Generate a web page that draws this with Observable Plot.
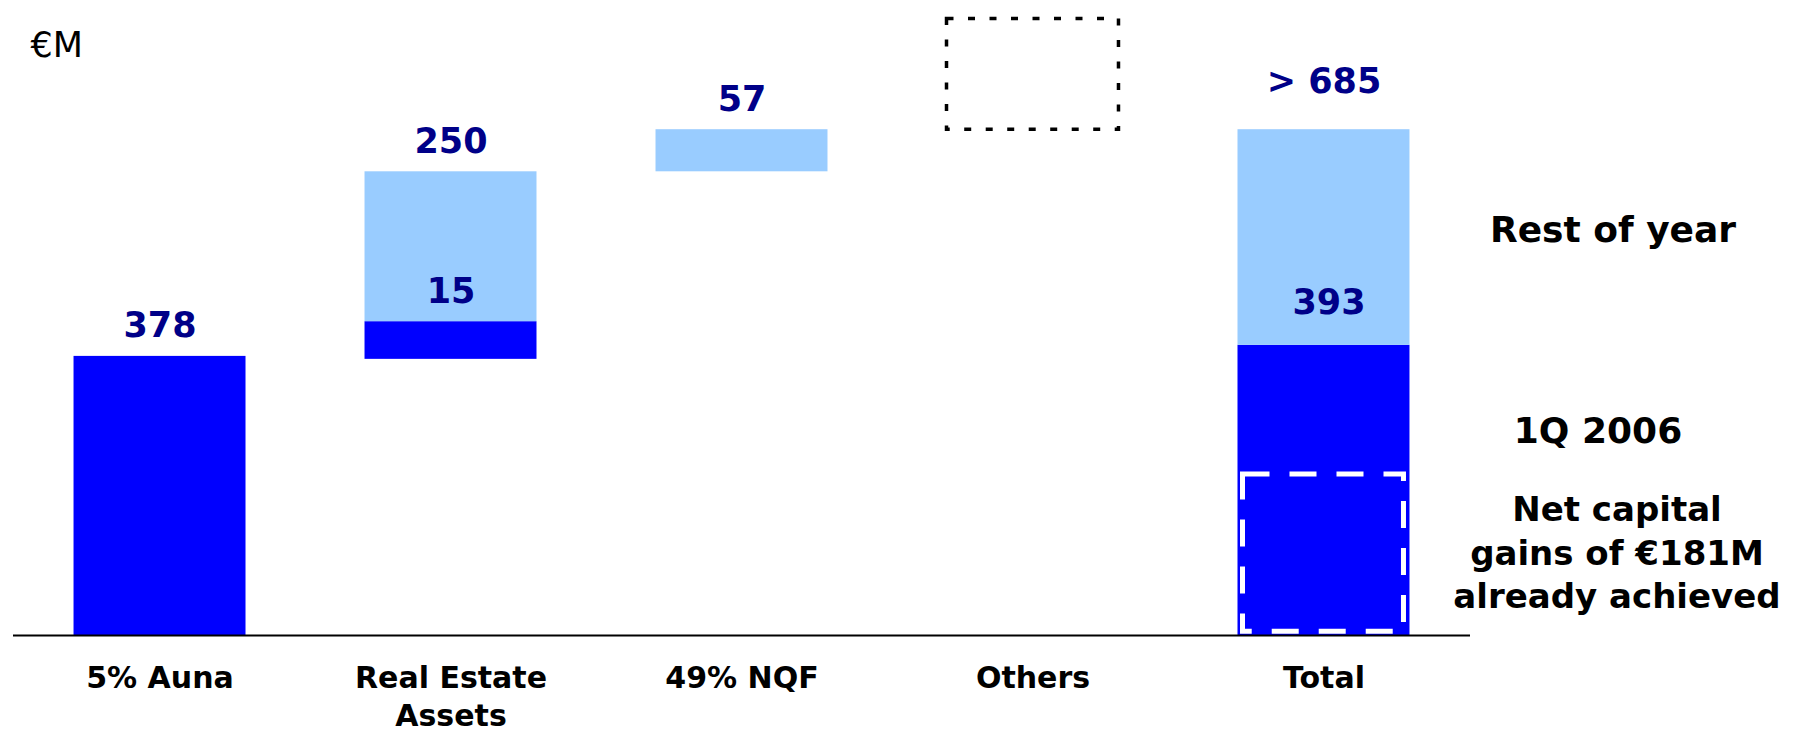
<!DOCTYPE html>
<html>
<head>
<meta charset="utf-8">
<script src="https://cdn.jsdelivr.net/npm/d3@7"></script>
<script src="https://cdn.jsdelivr.net/npm/@observablehq/plot@0.6"></script>
<style>
  html, body { margin: 0; padding: 0; background: #fff; overflow: hidden; }
  #chart svg { display: block; }
</style>
</head>
<body>
<div id="chart"></div>
<script>
// ---- data (€M) ----
const categories = ["5% Auna", "Real Estate\nAssets", "49% NQF", "Others", "Total"];
// first-quarter (dark blue) segment extents as drawn
const q1Start = [0, 374, null, null, 0];
const q1End   = [378, 425, null, null, 393];
// rest-of-year (light blue) segment extents
const restStart = [null, 425, 628, null, 393];
const restEnd   = [null, 628, 685, null, 685];
// "Others" still to come (dashed outline)
const othersStart = [null, null, null, 685, null];
const othersEnd   = [null, null, null, 835, null];
// net capital gains already achieved (white dashed, inside Total)
const achievedStart = [null, null, null, null, 5];
const achievedEnd   = [null, null, null, null, 218];
// value labels
const topLabels   = ["378", "250", "57", "", "> 685"];
const innerLabels = ["", "15", "", "", "393"];
const unitLabel = "€M";
const legendRest = "Rest of year";
const legendQ1 = "1Q 2006";
const noteText = "Net capital\ngains of €181M\nalready achieved";

const rows = categories.map((cat, i) => ({
  cat,
  q1Start: q1Start[i], q1End: q1End[i],
  restStart: restStart[i], restEnd: restEnd[i],
  othersStart: othersStart[i], othersEnd: othersEnd[i],
  achievedStart: achievedStart[i], achievedEnd: achievedEnd[i],
  top: topLabels[i], inner: innerLabels[i],
  topY: Math.max(q1End[i] ?? 0, restEnd[i] ?? 0)
}));
const total = rows[rows.length - 1];

const FONT = "'DejaVu Sans', Verdana, sans-serif";
const NAVY = "#000088";
const DARK = "#0000FF";
const LIGHT = "#99CCFF";

const chart = Plot.plot({
  width: 1795,
  height: 729,
  marginTop: 0,
  marginBottom: 94,
  marginLeft: 13,
  marginRight: 325,
  style: { fontFamily: FONT, background: "#fff", overflow: "visible" },
  x: { domain: categories, paddingInner: 0.409, paddingOuter: 0.208, round: false, axis: null },
  y: { domain: [0, 860], axis: null },
  marks: [
    Plot.barY(rows.filter(d => d.q1End != null), { x: "cat", y1: "q1Start", y2: "q1End", fill: DARK }),
    Plot.barY(rows.filter(d => d.restEnd != null), { x: "cat", y1: "restStart", y2: "restEnd", fill: LIGHT }),
    Plot.barY(rows.filter(d => d.othersEnd != null), {
      x: "cat", y1: "othersStart", y2: "othersEnd",
      fill: "none", stroke: "#000", strokeWidth: 3.5, strokeDasharray: "7,14.5"
    }),
    Plot.barY(rows.filter(d => d.achievedEnd != null), {
      x: "cat", y1: "achievedStart", y2: "achievedEnd", insetLeft: 5, insetRight: 6,
      fill: "none", stroke: "#fff", strokeWidth: 5, strokeDasharray: "27,20"
    }),
    Plot.ruleY([0], { stroke: "#000", strokeWidth: 2 }),
    Plot.axisX({
      domain: categories, tickSize: 0, tickPadding: 26, fontSize: 30, fontWeight: "bold",
      fill: "#000", lineHeight: 1.25, label: null
    }),
    // top value labels
    Plot.text(rows.filter(d => d.top && d.cat !== "Total"), {
      x: "cat", y: "topY", text: "top", lineAnchor: "bottom", dy: -19,
      fontSize: 35, fontWeight: "bold", fill: NAVY
    }),
    Plot.text([total], {
      x: "cat", y: "topY", text: "top", lineAnchor: "bottom", dy: -37,
      fontSize: 35, fontWeight: "bold", fill: NAVY
    }),
    // inner labels
    Plot.text(rows.filter(d => d.inner && d.cat !== "Total"), {
      x: "cat", y: "q1End", text: "inner", lineAnchor: "bottom", dy: -19,
      fontSize: 35, fontWeight: "bold", fill: NAVY
    }),
    Plot.text([total], {
      x: "cat", y: "q1End", text: "inner", lineAnchor: "bottom", dy: -31, dx: 5,
      fontSize: 35, fontWeight: "bold", fill: NAVY
    }),
    // right-hand annotations
    Plot.text([total], {
      x: "cat", y: d => (d.restStart + d.restEnd) / 2, text: () => legendRest,
      dx: 289, dy: -7, fontSize: 36, fontWeight: "bold", fill: "#000"
    }),
    Plot.text([total], {
      x: "cat", y: "q1End", text: () => legendQ1,
      dx: 274, dy: 86, fontSize: 36, fontWeight: "bold", fill: "#000"
    }),
    Plot.text([total], {
      x: "cat", y: "achievedEnd", text: () => noteText, lineAnchor: "top",
      dx: 293, dy: 15, lineHeight: 1.29, fontSize: 34, fontWeight: "bold", fill: "#000"
    }),
    // unit label
    Plot.text([unitLabel], {
      frameAnchor: "top-left", text: d => d, textAnchor: "start", lineAnchor: "top",
      dx: 17, dy: 32, fontSize: 35, fill: "#000"
    })
  ]
});
document.getElementById("chart").appendChild(chart);
</script>
</body>
</html>
